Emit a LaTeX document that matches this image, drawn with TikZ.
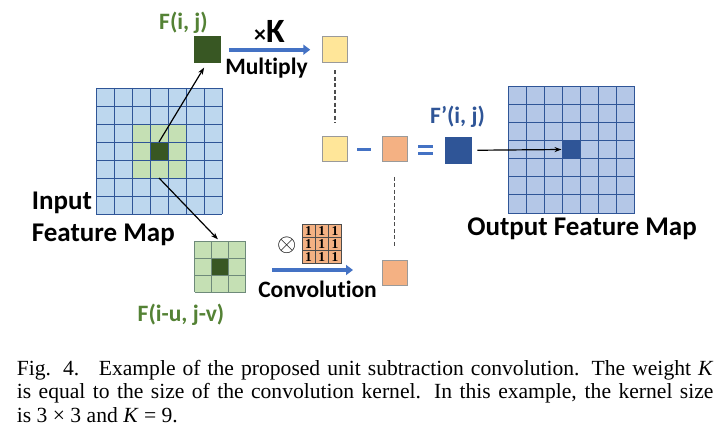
\documentclass[tikz,border=0pt]{standalone}
\usepackage{fontspec}
\setmainfont{Liberation Serif}
\newfontfamily\lblfont[Ligatures={NoCommon}]{Carlito}
\usetikzlibrary{arrows.meta}
\definecolor{inblue}{HTML}{BDD7EE}
\definecolor{gridnavy}{HTML}{2F5597}
\definecolor{lgreen}{HTML}{C5E0B4}
\definecolor{dgreen}{HTML}{385723}
\definecolor{outblue}{HTML}{B4C7E7}
\definecolor{dblue}{HTML}{2F5597}
\definecolor{yel}{HTML}{FFE699}
\definecolor{ora}{HTML}{F4B183}
\definecolor{sqborder}{HTML}{9A9A9A}
\definecolor{arrblue}{HTML}{4472C4}
\definecolor{lblgreen}{HTML}{548235}
\definecolor{lblblue}{HTML}{2F5597}
\definecolor{smallline}{HTML}{6E8A7A}
\tikzset{
  cellsq/.style={minimum size=25.5bp, inner sep=0pt, outer sep=0pt, line width=0.9bp},
  gline/.style={gridnavy, line width=0.9bp},
  kline/.style={black!70, line width=0.6bp},
  bluearr/.style={arrblue, line width=4.2bp, -{Triangle[length=7bp,width=10bp]}},
  blackarr/.style={black, line width=1.2bp, -{Stealth[length=7bp,width=5bp]}},
  dashln/.style={black!70, line width=1.3bp, dash pattern=on 4bp off 2.5bp},
  lbl/.style={font=\lblfont\bfseries\fontsize{23.5bp}{25bp}\selectfont, inner sep=0pt, anchor=base},
  biglbl/.style={font=\lblfont\bfseries\fontsize{27bp}{29bp}\selectfont, inner sep=0pt},
  kdigit/.style={inner sep=0pt, font=\bfseries\fontsize{13.5bp}{13.5bp}\selectfont, text height=9bp, text depth=0pt},
}
\begin{document}
\begin{tikzpicture}[x=1bp, y=-1bp]
\useasboundingbox (0,0) rectangle (728,439);
\fill[white] (0,0) rectangle (728,439);

% ---------- input feature map ----------
\fill[inblue] (96,88) rectangle (222,214);
\fill[lgreen] (132,124) rectangle (186,178);
\node[name=inGreen, minimum size=54bp, inner sep=0pt, outer sep=0pt] at (159,151) {};
\node[name=inDark, fill=dgreen, minimum size=18bp, inner sep=0pt, outer sep=0pt] at (159,151) {};
\foreach \i in {0,...,7} {
  \draw[gline] (96+18*\i,88) -- (96+18*\i,214);
  \draw[gline] (96,88+18*\i) -- (222,88+18*\i);
}

% ---------- output feature map ----------
\fill[outblue] (508,86.5) rectangle (634.5,213);
\node[name=outDark, fill=dblue, minimum size=18bp, inner sep=0pt, outer sep=0pt] at (571,149.5) {};
\foreach \i in {0,...,7} {
  \draw[gline] (508+18.07*\i,86.5) -- (508+18.07*\i,213);
  \draw[gline] (508,86.5+18.07*\i) -- (634.5,86.5+18.07*\i);
}

% ---------- small 3x3 neighbourhood ----------
\fill[lgreen] (194.5,241.5) rectangle (245.5,292.5);
\fill[dgreen] (211.5,258.5) rectangle (228.5,275.5);
\node[name=small, minimum size=51bp, inner sep=0pt, outer sep=0pt] at (220,267) {};
\foreach \i in {0,...,3} {
  \draw[line width=0.9bp, smallline] (194.5+17*\i,241.5) -- (194.5+17*\i,292.5);
  \draw[line width=0.9bp, smallline] (194.5,241.5+17*\i) -- (245.5,241.5+17*\i);
}

% ---------- kernel ----------
\fill[ora] (302,224.5) rectangle (341.5,263.5);
\foreach \i in {0,...,3} {
  \draw[kline] (302+13.17*\i,224.5) -- (302+13.17*\i,263.5);
  \draw[kline] (302,224.5+13*\i) -- (341.5,224.5+13*\i);
}
\foreach \r in {0,1,2} \foreach \c in {0,1,2} {
  \node[name=k\r\c, kdigit] at (308.6+13.17*\c,231.4+13*\r) {1};
}
\node[name=otimes, inner sep=0pt, font=\fontsize{25bp}{25bp}\selectfont] at (286.7,245) {$\otimes$};

% ---------- squares ----------
\node[name=fij, cellsq, fill=dgreen, draw=dgreen] at (207.2,49.7) {};
\node[name=ytop, cellsq, fill=yel, draw=sqborder] at (335,49.7) {};
\node[name=ymid, cellsq, fill=yel, draw=sqborder] at (335,148.8) {};
\node[name=omid, cellsq, fill=ora, draw=sqborder] at (394.8,148.8) {};
\node[name=obot, cellsq, fill=ora, draw=sqborder] at (394.8,273) {};
\node[name=fout, cellsq, fill=dblue, draw=dblue] at (458.5,150.3) {};

% minus and equals
\fill[arrblue] (356.7,147.6) rectangle (371,150.9);
\fill[arrblue] (418.3,145) rectangle (432.7,148.4);
\fill[arrblue] (418.3,151.8) rectangle (432.7,155.2);

% ---------- connectors ----------
\draw[blackarr, shorten >=6bp] (inDark.north) -- (fij.south);
\draw[blackarr, shorten >=3bp] (inGreen.south) -- (small.north);
\draw[blackarr, shorten <=6bp, shorten >=0.5bp] (fout.east) -- (outDark.west);
\draw[bluearr, shorten <=9bp, shorten >=12bp] (fij.east) -- (ytop.west);
\coordinate (cs) at (272,270);
\coordinate (ce) at (353,270);
\draw[bluearr] (cs) -- (ce);
\draw[dashln, shorten <=7.7bp, shorten >=13.6bp] (ytop.south) -- (ymid.north);
\draw[dashln, shorten <=15.4bp, shorten >=13.6bp] (omid.south) -- (obot.north);

% ---------- labels ----------
\node[name=tFij, lbl, text=lblgreen] at (183.5,29.3) {F(i, j)};
\node[name=tK, inner sep=0pt, anchor=base, font=\lblfont\bfseries] at (269.5,43) {\fontsize{24bp}{24bp}\selectfont ×\fontsize{34bp}{34bp}\selectfont K};
\node[name=tMul, lbl] at (266.5,75) {Multiply};
\node[name=tIn, biglbl, anchor=base west] at (31.7,210) {Input};
\node[name=tFM, biglbl, anchor=base west] at (31.7,241.7) {Feature Map};
\node[name=tFuv, lbl, text=lblgreen] at (181,321.7) {F(i-u, j-v)};
\node[name=tConv, lbl] at (317.5,297.7) {Convolution};
\node[name=tFout, lbl, text=lblblue] at (457.5,123.3) {F’(i, j)};
\node[name=tOut, biglbl, anchor=base] at (582,236) {Output Feature Map};

% ---------- caption ----------
\node[name=cap, anchor=base west, inner sep=0pt, text width=696.5bp, align=justify,
      font=\fontsize{21.6bp}{23.6bp}\selectfont] at (16.7,375)
  {Fig. 4.\hspace{0.9em}Example of the proposed unit subtraction convolution. The weight \textit{K}\linebreak
   is equal to the size of the convolution kernel. In this example, the kernel size\linebreak
   is 3 × 3 and \textit{K} = 9.};
\end{tikzpicture}
\end{document}
